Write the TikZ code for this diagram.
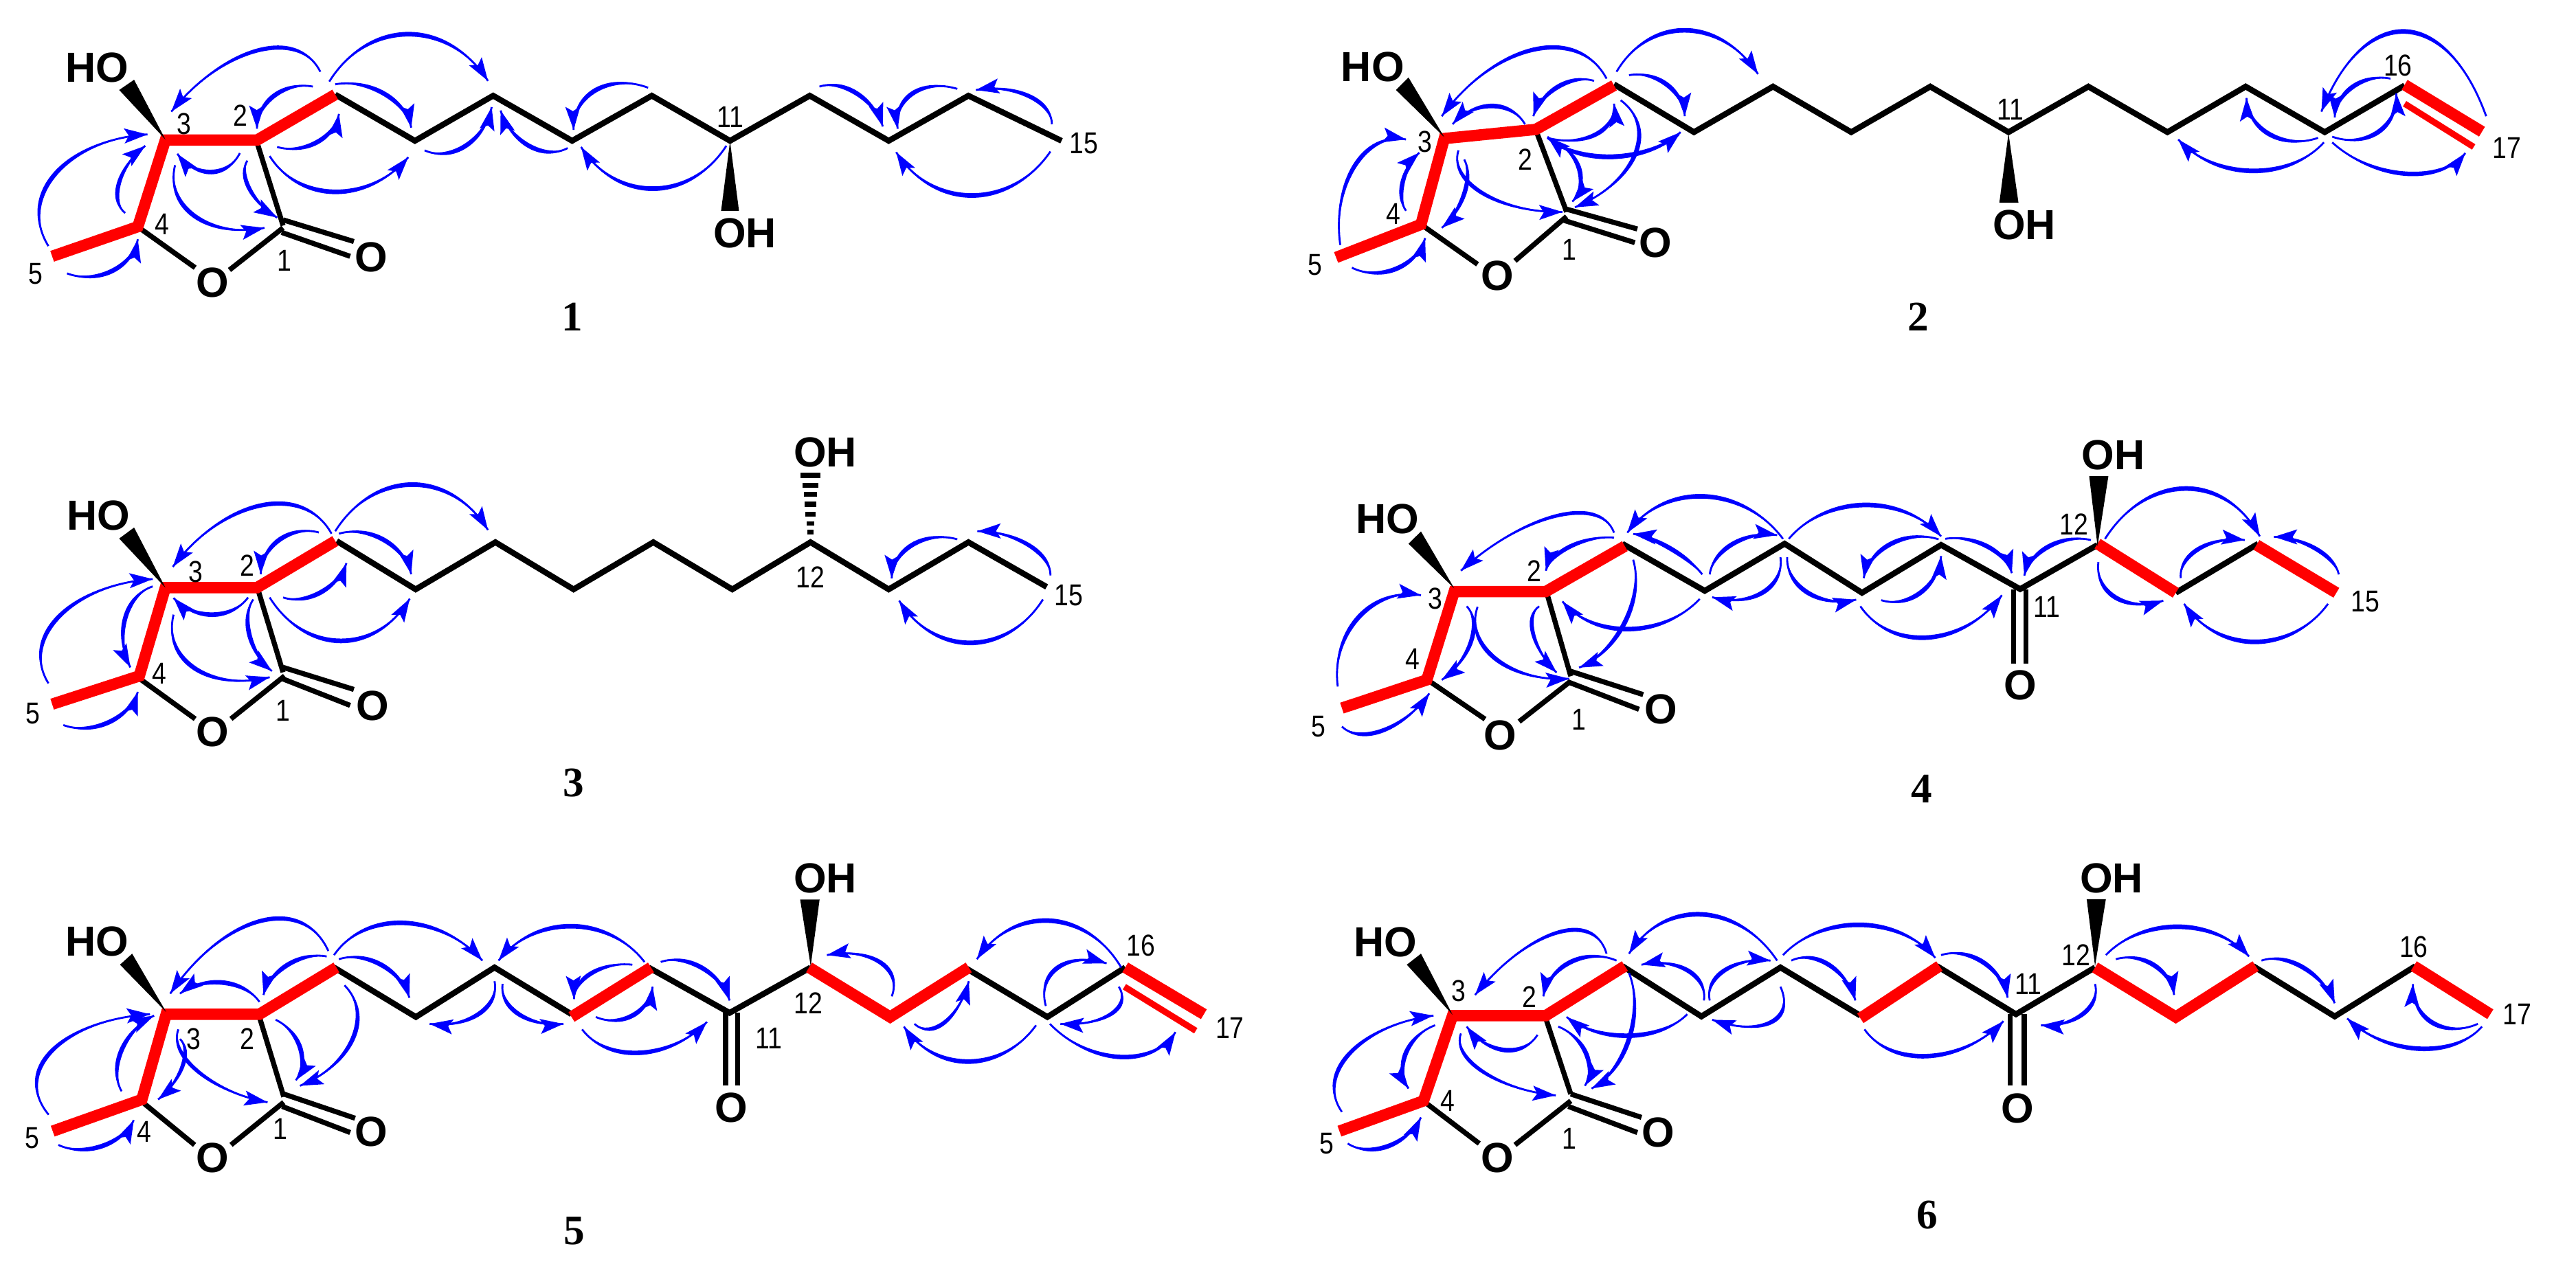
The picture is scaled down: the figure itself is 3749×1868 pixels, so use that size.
\documentclass[tikz,border=0pt]{standalone}
\usepackage{fontspec}
\setmainfont{Liberation Sans}
\newfontfamily\serifnum{Liberation Serif}
\newfontfamily\numfont[FakeStretch=0.85]{Liberation Sans}
\definecolor{hblue}{RGB}{0,0,255}
\definecolor{hred}{RGB}{255,0,0}
\tikzset{
 blk/.style={draw=black,line width=2.4pt,line join=miter},
 thin bond/.style={draw=black,line width=2.1pt},
 redb/.style={draw=hred,line width=4.7pt,line join=miter},
 redthin/.style={draw=hred,line width=2.6pt},
 het/.style={inner sep=0pt,font=\fontsize{17.4}{20}\selectfont\bfseries},
 numl/.style={inner sep=0pt,font=\fontsize{12.5}{14}\selectfont\numfont},
 cmpd/.style={inner sep=0pt,font=\fontsize{17.4}{20}\selectfont\serifnum\bfseries}
}
\def\Ka{0.5}
\def\Wd{4.5}
\def\HL{34}
\def\HW{11}
\newcount\lc
\def\lab#1(#2,#3)#4{\global\advance\lc by 1 \node[#1] (t\the\lc) at (#2,#3) {#4};}
\def\hmbc(#1,#2)(#3,#4)(#5,#6){%
 \pgfmathsetmacro\Sx{\sx*#1}\pgfmathsetmacro\Sy{\sy*#2}%
 \pgfmathsetmacro\Px{\sx*#3}\pgfmathsetmacro\Py{\sy*#4}%
 \pgfmathsetmacro\Ex{\sx*#5}\pgfmathsetmacro\Ey{\sy*#6}%
 \pgfmathsetmacro\Mx{(\Sx+\Ex)/2}\pgfmathsetmacro\My{(\Sy+\Ey)/2}%
 \pgfmathsetmacro\hx{4/3*(\Px-\Mx)}\pgfmathsetmacro\hy{4/3*(\Py-\My)}%
 \pgfmathsetmacro\Ax{\Mx+\hx+\Ka*(\Sx-\Mx)}\pgfmathsetmacro\Ay{\My+\hy+\Ka*(\Sy-\My)}%
 \pgfmathsetmacro\Bx{\Mx+\hx+\Ka*(\Ex-\Mx)}\pgfmathsetmacro\By{\My+\hy+\Ka*(\Ey-\My)}%
 \pgfmathsetmacro\dl{100*veclen((\Ex-\Bx)/100,(\Ey-\By)/100)+0.01}%
 \pgfmathsetmacro\ux{(\Ex-\Bx)/\dl}\pgfmathsetmacro\uy{(\Ey-\By)/\dl}%
 \pgfmathsetmacro\nl{100*veclen((\Px-\Mx)/100,(\Py-\My)/100)+0.01}%
 \pgfmathsetmacro\nx{\Wd*(\Px-\Mx)/\nl}\pgfmathsetmacro\ny{\Wd*(\Py-\My)/\nl}%
 \pgfmathsetmacro\Wx{\Ex-\HL*\ux}\pgfmathsetmacro\Wy{\Ey-\HL*\uy}%
 \pgfmathsetmacro\Nx{\Ex-0.8*\HL*\ux}\pgfmathsetmacro\Ny{\Ey-0.8*\HL*\uy}%
 \begin{scope}[x=0.01cm,y=-0.01cm]
  \draw[hblue,line width=0.8pt] (\Sx,\Sy) .. controls (\Ax,\Ay) and (\Bx,\By) .. (\Ex,\Ey);
  \fill[hblue] (\Sx,\Sy) .. controls ({\Ax+\nx},{\Ay+\ny}) and ({\Bx+\nx},{\By+\ny}) .. (\Ex,\Ey)
    .. controls ({\Bx-\nx},{\By-\ny}) and ({\Ax-\nx},{\Ay-\ny}) .. (\Sx,\Sy) -- cycle;
  \fill[hblue] (\Ex,\Ey) -- ({\Wx-\HW*\uy},{\Wy+\HW*\ux}) -- (\Nx,\Ny) -- ({\Wx+\HW*\uy},{\Wy-\HW*\ux}) -- cycle;
 \end{scope}}
\begin{document}
\begin{tikzpicture}[x=0.01cm,y=-0.01cm]
\useasboundingbox (0,0) rectangle (3749,1868);
\fill[white] (0,0) rectangle (3749,1868);

%%% Molecule 1
\def\sx{1.08418}\def\sy{0.33163}
\begin{scope}[shift={(0,0)},x=1.08418*0.01cm,y=-0.33163*0.01cm]
\draw[blk] (450,415)--(557,618)--(662,420)--(768,618)--(875,420)--(980,618)--(1087,420)--(1193,618)--(1300,420)--(1425,618);
\draw[thin bond] (187,1000)--(262,1175) (308,1185)--(380,1000) (345,625)--(380,990);
\draw[thin bond] (380,965)--(475,1060) (378,1020)--(470,1125);
\draw[redb] (70,1125)--(185,995)--(222,615)--(345,615)--(450,415);
\fill (222,612)--(160,395)--(180,350)--cycle;
\fill (980,620)--(968,925)--(992,925)--cycle;
\lab{het}(130,298){HO} \lab{het}(285,1240){O} \lab{het}(498,1130){O} \lab{het}(1000,1025){OH}
\lab{numl}(247,545){3} \lab{numl}(323,508){2} \lab{numl}(218,985){4} \lab{numl}(382,1145){1} \lab{numl}(48,1203){5} \lab{numl}(980,515){11} \lab{numl}(1455,628){15}
\lab{cmpd}(768,1392){1}
\hmbc(430,315)(345,222)(230,490)
\hmbc(442,358)(548,150)(655,355)
\hmbc(420,380)(368,420)(345,565)
\hmbc(450,370)(515,410)(552,560)
\hmbc(372,645)(425,625)(455,500)
\hmbc(362,685)(450,842)(548,690)
\hmbc(570,660)(625,640)(660,470)
\hmbc(762,650)(710,640)(672,485)
\hmbc(870,385)(800,395)(770,570)
\hmbc(975,640)(877,828)(780,645)
\hmbc(1100,380)(1150,410)(1185,555)
\hmbc(1285,390)(1225,410)(1205,565)
\hmbc(1412,545)(1380,420)(1310,395)
\hmbc(1410,665)(1305,858)(1203,668)
\hmbc(322,672)(283,755)(238,675)
\hmbc(235,725)(262,950)(355,1000)
\hmbc(332,705)(335,830)(372,955)
\hmbc(168,935)(160,800)(195,640)
\hmbc(65,1080)(75,760)(198,590)
\hmbc(90,1200)(150,1190)(185,1050)
\end{scope}

%%% Molecule 2
\def\sx{1.2111}\def\sy{0.33163}
\begin{scope}[shift={(1850,0)},x=1.2111*0.01cm,y=-0.33163*0.01cm]
\draw[blk] (412,370)--(508,580)--(603,380)--(697,580)--(792,380)--(886,580)--(982,380)--(1077,580)--(1171,380)--(1266,580)--(1362,375);
\draw[thin bond] (182,990)--(248,1160) (293,1145)--(355,950) (320,590)--(355,930);
\draw[thin bond] (352,915)--(440,1005) (350,965)--(437,1065);
\draw[redb] (78,1130)--(180,985)--(208,608)--(318,568)--(412,375);
\draw[redb] (1362,372)--(1455,578);
\draw[redthin] (1362,455)--(1445,645);
\fill (208,602)--(150,395)--(165,340)--cycle;
\fill (886,585)--(875,890)--(898,890)--cycle;
\lab{het}(122,295){HO} \lab{het}(272,1210){O} \lab{het}(462,1065){O} \lab{het}(905,987){OH}
\lab{numl}(1354,288){16} \lab{numl}(888,480){11} \lab{numl}(185,622){3} \lab{numl}(305,700){2} \lab{numl}(147,940){4} \lab{numl}(358,1095){1} \lab{numl}(53,1162){5} \lab{numl}(1485,648){17}
\lab{cmpd}(778,1390){2}
\hmbc(403,345)(315,218)(205,510)
\hmbc(415,315)(498,133)(585,325)
\hmbc(388,355)(345,380)(315,510)
\hmbc(430,330)(475,370)(497,510)
\hmbc(305,545)(265,465)(218,545)
\hmbc(332,605)(390,590)(412,455)
\hmbc(420,440)(437,680)(365,910)
\hmbc(490,590)(410,688)(332,600)
\hmbc(332,605)(410,688)(492,580)
\hmbc(340,620)(370,740)(362,885)
\hmbc(225,660)(255,850)(350,930)
\hmbc(232,700)(232,850)(205,1000)
\hmbc(162,925)(158,800)(178,670)
\hmbc(83,1075)(100,730)(162,612)
\hmbc(97,1175)(150,1180)(185,1045)
\hmbc(1460,510)(1362,138)(1262,490)
\hmbc(1345,345)(1300,380)(1278,515)
\hmbc(1258,605)(1200,590)(1172,430)
\hmbc(1275,600)(1330,580)(1352,410)
\hmbc(1265,625)(1178,750)(1090,612)
\hmbc(1275,625)(1362,762)(1435,672)
\end{scope}

%%% Molecule 3
\def\sx{1.08418}\def\sy{0.35714}
\begin{scope}[shift={(0,600)},x=1.08418*0.01cm,y=-0.35714*0.01cm]
\draw[blk] (452,525)--(558,722)--(665,530)--(770,722)--(877,530)--(983,722)--(1088,530)--(1193,722)--(1300,530)--(1405,712);
\draw[thin bond] (187,1085)--(262,1250) (310,1250)--(382,1075) (347,730)--(380,1060);
\draw[thin bond] (380,1040)--(475,1130) (378,1085)--(470,1195);
\draw[redb] (70,1190)--(187,1075)--(222,715)--(345,715)--(450,525);
\fill (222,715)--(160,515)--(180,470)--cycle;
\foreach \ya/\yb/\hw in {246/270/13,288/308/11,325/345/9,365/385/8,405/425/7,445/462/5,478/497/4}
 \fill (1088-\hw,\ya) rectangle (1088+\hw,\yb);
\lab{het}(132,422){HO} \lab{het}(285,1302){O} \lab{het}(500,1198){O} \lab{het}(1108,163){OH}
\lab{numl}(263,650){3} \lab{numl}(332,625){2} \lab{numl}(214,1065){4} \lab{numl}(380,1215){1} \lab{numl}(44,1228){5} \lab{numl}(1088,672){12} \lab{numl}(1435,747){15}
\lab{cmpd}(770,1510){3}
\hmbc(445,495)(350,380)(232,630)
\hmbc(450,485)(553,295)(655,480)
\hmbc(428,490)(375,520)(350,660)
\hmbc(455,495)(515,520)(552,660)
\hmbc(380,755)(430,735)(465,615)
\hmbc(362,755)(457,932)(550,760)
\hmbc(333,755)(285,825)(233,757)
\hmbc(233,825)(262,1045)(362,1080)
\hmbc(340,763)(335,910)(365,1055)
\hmbc(205,710)(168,840)(175,1040)
\hmbc(65,1105)(80,830)(205,680)
\hmbc(85,1275)(145,1265)(185,1140)
\hmbc(1285,518)(1225,540)(1197,677)
\hmbc(1410,665)(1380,540)(1312,485)
\hmbc(1400,763)(1303,940)(1207,768)
\end{scope}

%%% Molecule 4
\def\sx{1.2111}\def\sy{0.35714}
\begin{scope}[shift={(1850,620)},x=1.2111*0.01cm,y=-0.35714*0.01cm]
\draw[blk] (422,480)--(521,672)--(617,480)--(710,680)--(805,485)--(900,665)--(993,485);
\draw[blk] (1087,680)--(1186,480);
\draw[thin bond] (892,665)--(892,968) (907,665)--(907,968);
\draw[thin bond] (190,1040)--(257,1195) (298,1205)--(360,1040) (332,690)--(360,1020);
\draw[thin bond] (360,1000)--(447,1095) (358,1045)--(442,1155);
\draw[redb] (85,1150)--(187,1035)--(220,675)--(330,675)--(425,490);
\draw[redb] (993,480)--(1087,680);
\draw[redb] (1184,485)--(1280,680);
\fill (220,662)--(165,480)--(180,430)--cycle;
\fill (993,490)--(983,205)--(1006,205)--cycle;
\lab{het}(140,380){HO} \lab{het}(275,1260){O} \lab{het}(468,1155){O} \lab{het}(900,1058){O} \lab{het}(1012,120){OH}
\lab{numl}(316,592){2} \lab{numl}(197,705){3} \lab{numl}(170,950){4} \lab{numl}(370,1198){1} \lab{numl}(57,1225){5} \lab{numl}(932,737){11} \lab{numl}(965,400){12} \lab{numl}(1315,717){15}
\lab{cmpd}(782,1480){4}
\hmbc(412,435)(342,367)(228,590)
\hmbc(412,455)(360,490)(330,590)
\hmbc(615,460)(520,287)(428,435)
\hmbc(518,605)(480,500)(435,440)
\hmbc(527,605)(555,480)(608,445)
\hmbc(622,460)(713,322)(805,450)
\hmbc(802,462)(745,480)(712,620)
\hmbc(810,460)(860,490)(890,600)
\hmbc(985,465)(935,490)(905,610)
\hmbc(1002,460)(1098,255)(1188,450)
\hmbc(1283,605)(1255,500)(1205,452)
\hmbc(1270,725)(1182,880)(1097,725)
\hmbc(1093,620)(1115,500)(1170,465)
\hmbc(994,555)(1015,700)(1072,712)
\hmbc(708,735)(790,862)(878,690)
\hmbc(733,710)(780,680)(805,530)
\hmbc(620,535)(645,680)(703,708)
\hmbc(612,535)(590,680)(530,698)
\hmbc(515,705)(430,828)(350,715)
\hmbc(435,545)(425,800)(370,985)
\hmbc(322,735)(315,850)(343,1005)
\hmbc(248,737)(270,950)(358,1030)
\hmbc(235,735)(240,880)(205,1035)
\hmbc(80,1062)(105,780)(180,690)
\hmbc(85,1225)(135,1240)(190,1090)
\end{scope}

%%% Molecule 5
\def\sx{1.17985}\def\sy{0.4005}
\begin{scope}[shift={(0,1240)},x=1.17985*0.01cm,y=-0.4005*0.01cm]
\draw[blk] (412,420)--(513,600)--(610,420)--(705,590);
\draw[blk] (800,420)--(900,585)--(1000,420);
\draw[blk] (1190,420)--(1292,600)--(1388,420);
\draw[thin bond] (895,585)--(895,850) (910,585)--(910,850);
\draw[thin bond] (178,915)--(240,1065) (285,1065)--(350,910) (320,600)--(350,890);
\draw[thin bond] (350,880)--(438,968) (348,925)--(432,1020);
\draw[redb] (65,1015)--(175,900)--(205,590)--(320,590)--(415,420);
\draw[redb] (705,600)--(803,420);
\draw[redb] (998,420)--(1098,600)--(1195,420);
\draw[redb] (1388,420)--(1485,590);
\draw[redthin] (1387,490)--(1475,650);
\fill (205,582)--(148,410)--(163,370)--cycle;
\fill (1000,415)--(987,173)--(1011,173)--cycle;
\lab{het}(120,325){HO} \lab{het}(262,1112){O} \lab{het}(458,1018){O} \lab{het}(902,930){O} \lab{het}(1018,95){OH}
\lab{numl}(1407,340){16} \lab{numl}(239,680){3} \lab{numl}(305,680){2} \lab{numl}(178,1018){4} \lab{numl}(346,1007){1} \lab{numl}(40,1040){5} \lab{numl}(948,678){11} \lab{numl}(997,550){12} \lab{numl}(1517,640){17}
\lab{cmpd}(708,1378){5}
\hmbc(405,360)(320,252)(210,515)
\hmbc(412,375)(498,258)(595,395)
\hmbc(403,380)(355,410)(325,520)
\hmbc(418,390)(470,410)(505,530)
\hmbc(320,545)(275,475)(222,515)
\hmbc(340,610)(370,710)(365,830)
\hmbc(425,485)(435,680)(370,850)
\hmbc(220,645)(245,800)(330,910)
\hmbc(222,680)(225,780)(195,900)
\hmbc(150,870)(150,720)(190,595)
\hmbc(60,955)(65,720)(185,590)
\hmbc(72,1065)(125,1070)(165,975)
\hmbc(610,470)(590,590)(530,625)
\hmbc(620,480)(640,590)(695,625)
\hmbc(735,600)(780,595)(805,490)
\hmbc(780,410)(730,440)(708,535)
\hmbc(795,400)(705,270)(615,395)
\hmbc(815,400)(865,420)(900,540)
\hmbc(718,645)(790,730)(872,618)
\hmbc(1100,525)(1085,400)(1020,375)
\hmbc(1128,625)(1165,620)(1195,470)
\hmbc(1278,630)(1195,762)(1115,635)
\hmbc(1290,560)(1305,420)(1365,405)
\hmbc(1383,420)(1295,250)(1205,390)
\hmbc(1380,490)(1370,590)(1308,625)
\hmbc(1295,625)(1380,745)(1450,655)
\end{scope}

%%% Molecule 6
\def\sx{1.2111}\def\sy{0.4005}
\begin{scope}[shift={(1850,1240)},x=1.2111*0.01cm,y=-0.4005*0.01cm]
\draw[blk] (422,415)--(517,598)--(612,420)--(708,595);
\draw[blk] (800,415)--(895,590)--(990,420);
\draw[blk] (1180,415)--(1278,598)--(1375,415);
\draw[thin bond] (888,590)--(888,850) (905,590)--(905,850);
\draw[thin bond] (187,915)--(250,1060) (293,1065)--(360,905) (330,605)--(360,880);
\draw[thin bond] (360,880)--(445,965) (357,925)--(440,1020);
\draw[redb] (82,1015)--(183,905)--(218,595)--(330,595)--(425,415);
\draw[redb] (708,605)--(803,415);
\draw[redb] (990,420)--(1087,600)--(1183,415);
\draw[redb] (1373,415)--(1465,590);
\fill (218,592)--(163,410)--(180,370)--cycle;
\fill (990,415)--(980,172)--(1003,172)--cycle;
\lab{het}(137,328){HO} \lab{het}(272,1112){O} \lab{het}(465,1020){O} \lab{het}(897,933){O} \lab{het}(1010,97){OH}
\lab{numl}(225,505){3} \lab{numl}(310,528){2} \lab{numl}(212,905){4} \lab{numl}(358,1043){1} \lab{numl}(67,1060){5} \lab{numl}(1373,345){16} \lab{numl}(1497,590){17} \lab{numl}(910,480){11} \lab{numl}(967,375){12}
\lab{cmpd}(788,1320){6}
\hmbc(403,370)(342,295)(245,520)
\hmbc(415,395)(360,400)(327,525)
\hmbc(608,395)(517,227)(430,370)
\hmbc(520,540)(500,430)(445,410)
\hmbc(527,540)(545,430)(600,395)
\hmbc(615,375)(708,265)(798,385)
\hmbc(625,395)(670,410)(702,540)
\hmbc(805,375)(855,400)(885,530)
\hmbc(1003,375)(1090,272)(1175,380)
\hmbc(1015,390)(1060,410)(1085,520)
\hmbc(1190,395)(1240,420)(1278,550)
\hmbc(990,480)(975,590)(925,630)
\hmbc(713,645)(790,742)(880,615)
\hmbc(612,490)(600,620)(530,610)
\hmbc(500,590)(430,668)(355,600)
\hmbc(430,440)(430,680)(385,860)
\hmbc(345,635)(378,730)(377,850)
\hmbc(320,665)(280,720)(235,635)
\hmbc(228,660)(255,800)(342,885)
\hmbc(197,630)(162,730)(165,860)
\hmbc(85,945)(95,730)(195,595)
\hmbc(92,1060)(140,1070)(180,965)
\hmbc(1450,625)(1395,620)(1372,480)
\hmbc(1455,635)(1378,715)(1293,605)
\end{scope}
\end{tikzpicture}
\end{document}
